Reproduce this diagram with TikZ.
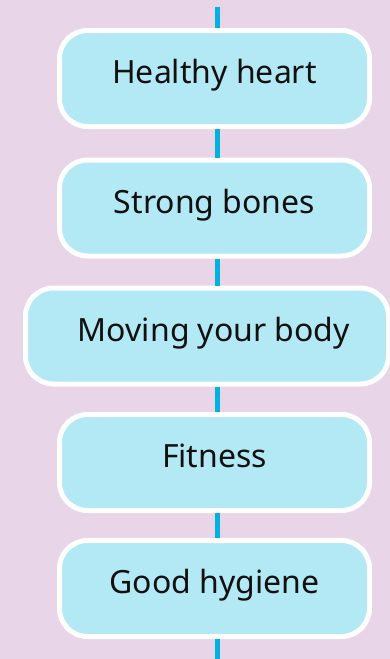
\documentclass[tikz,border=0pt]{standalone}
\usepackage{fontspec}
\setmainfont{Noto Sans}
\usetikzlibrary{positioning}
\definecolor{Lilac}{HTML}{E9D5E8}
\definecolor{Sky}{HTML}{B3E8F5}
\definecolor{Cyan}{HTML}{00B1E1}
\definecolor{Ink}{HTML}{111111}
\tikzset{
  habit/.style={
    rounded corners=28pt, draw=white, line width=5pt, fill=Sky,
    minimum width=310pt, minimum height=96pt, align=center,
    text height=23pt, text depth=13pt,
    text=Ink, font=\fontsize{32}{38}\selectfont
  },
  stem/.style={draw=Cyan, line width=5pt}
}

\begin{document}
\begin{tikzpicture}[x=1pt,y=-1pt]
    \fill[Lilac] (0,0) rectangle (390,659);
    \useasboundingbox (0,0) rectangle (390,659);
    \coordinate (top) at (217.5,7);
    \coordinate (bottom) at (217.5,659);
    \node[habit] (heart) at (214.5,78.5) {Healthy heart};
    \node[habit] (bones) at (214.5,208) {Strong bones};
    \node[habit,minimum width=363pt] (moving) at (207,336) {\hspace*{14pt}Moving your body};
    \node[habit] (fitness) at (214.5,462.5) {Fitness};
    \node[habit] (hygiene) at (214.5,588.5) {Good hygiene};
    \draw[stem] (top) -- (heart.north -| top);
    \draw[stem] (heart.south -| top) -- (bones.north -| top);
    \draw[stem] (bones.south -| top) -- (moving.north -| top);
    \draw[stem] (moving.south -| top) -- (fitness.north -| top);
    \draw[stem] (fitness.south -| top) -- (hygiene.north -| top);
    \draw[stem] (hygiene.south -| top) -- (bottom);
  \end{tikzpicture}
\end{document}
